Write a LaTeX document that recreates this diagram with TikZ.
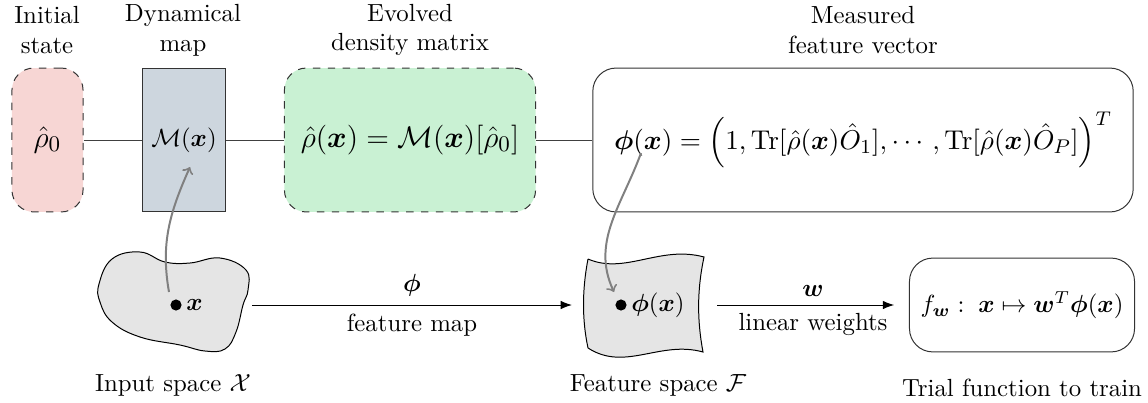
\documentclass[tikz,border=0pt]{standalone}
\usepackage{amsmath,amssymb,bm}
\usetikzlibrary{arrows.meta,positioning,calc}

\definecolor{initfill}{RGB}{247,214,212}
\definecolor{mapfill}{RGB}{205,214,222}
\definecolor{evolfill}{RGB}{201,241,211}

\begin{document}
\begin{tikzpicture}[x=0.01418cm,y=-0.01418cm,
    stagebox/.style={draw=black!80,inner sep=0pt,minimum height=2.04cm},
    dashbox/.style={stagebox,dashed,rounded corners=0.31cm},
    caption/.style={align=center,inner sep=0pt},
    link/.style={draw=black!75},
    flow/.style={-{Latex[length=1.6mm]}},
    embed/.style={draw=gray,thick,-to},
    dotmark/.style={circle,fill,inner sep=0pt,minimum size=4.5pt}]
    \useasboundingbox (0,0) rectangle (1148,402);

    % top row: quantum pipeline
    \node[caption] (initcap) at (47,30) {Initial\\state};
    \node[caption] (mapcap) at (183,30) {Dynamical\\map};
    \node[caption] (evolcap) at (410,30) {Evolved\\density matrix};
    \node[caption] (meascap) at (863,30) {Measured\\feature vector};

    \node[dashbox,fill=initfill,minimum width=1.007cm,font=\fontsize{12.4}{15}\selectfont] (init) at (47.5,140) {$\hat\rho_0$};
    \node[stagebox,fill=mapfill,minimum width=1.19cm] (map) at (184,140) {$\mathcal{M}(\bm{x})$};
    \node[dashbox,fill=evolfill,minimum width=3.56cm,font=\fontsize{12.4}{15}\selectfont] (evol) at (410,140) {$\hat\rho(\bm{x})=\mathcal{M}(\bm{x})[\hat\rho_0]$};
    \node[stagebox,rounded corners=0.33cm,minimum width=7.66cm,font=\fontsize{11.3}{13.6}\selectfont] (meas) at (863,140)
        {$\bm{\phi}(\bm{x})=\Big(1,\mathrm{Tr}[\hat\rho(\bm{x})\hat O_1],\cdots,\mathrm{Tr}[\hat\rho(\bm{x})\hat O_P]\Big)^T$};

    \draw[link] (init) -- (map);
    \draw[link] (map) -- (evol);
    \draw[link] (evol) -- (meas);

    % bottom row: input space, feature space, trial function
    \draw[fill=gray!20] plot[smooth cycle,tension=0.7] coordinates {(99,284) (112,259) (140,252) (165,262) (190,263) (220,258) (246,270) (248,290) (243,305) (236,332) (225,349) (205,351) (180,345) (140,337) (112,322) (100,302)}; % input blob
    \draw[fill=gray!20] (588,259) .. controls (625,275) and (660,245) .. (704,257)
        .. controls (697,290) and (697,320) .. (703,352)
        .. controls (660,340) and (625,372) .. (588,348)
        .. controls (582,320) and (582,290) .. (588,259); % feature sheet

    \node[dotmark] (xpt) at (176,305) {};
    \node[right=1.5pt of xpt,inner sep=0pt] (xlab) {$\bm{x}$};
    \node[dotmark] (phipt) at (621,305) {};
    \node[right=1.5pt of phipt,inner sep=0pt] (philab) {$\bm{\phi}(\bm{x})$};

    \node[draw=black!80,rounded corners=0.33cm,inner sep=0pt,minimum width=3.19cm,minimum height=1.33cm] (trial) at (1022,305)
        {$f_{\bm{w}}:\;\bm{x}\mapsto\bm{w}^T\bm{\phi}(\bm{x})$};

    \node (incap) at (173,385) {Input space $\mathcal{X}$};
    \node (featcap) at (658,385) {Feature space $\mathcal{F}$};
    \node (trialcap) at (1022,388) {Trial function to train};

    \coordinate (inE) at (252,305);
    \coordinate (featW) at (572,305);
    \coordinate (featE) at (717,305);
    \draw[flow] (inE) -- node[above] {$\bm{\phi}$} node[below] {feature map} (featW);
    \draw[flow,shorten >=0.21cm] (featE) -- node[above] {$\bm{w}$} node[below] {linear weights} (trial.west);

    % gray embedding arrows
    \coordinate (xup) at (169,292);
    \coordinate (mapin) at (190,167);
    \coordinate (phidown) at (641,153);
    \coordinate (featin) at (614,292);
    \draw[embed] (xup) to[out=100,in=246] (mapin);
    \draw[embed] (phidown) to[out=250,in=115] (featin);
\end{tikzpicture}
\end{document}
